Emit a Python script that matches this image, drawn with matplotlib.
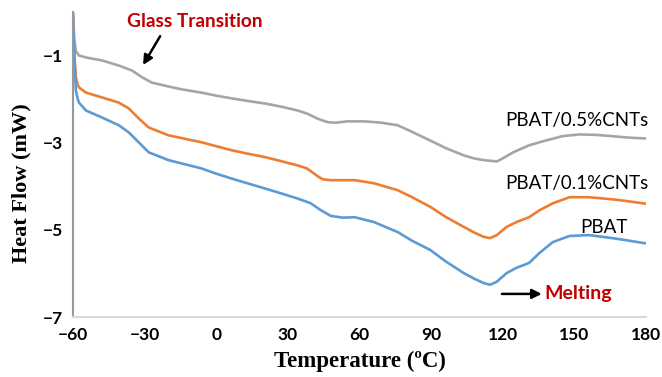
import matplotlib
matplotlib.use("Agg")
import matplotlib.pyplot as plt

# DSC curves (temperature in degC, heat flow in mW)
t_gray = [-60, -59.5, -58.8, -57.5, -54, -47.9, -40.8, -35.4, -31, -27, -20, -14, -6.2,
          0, 6.25, 13, 20.4, 27, 34, 38, 42.5, 46.7, 50, 55, 62, 69, 76, 82, 89.6, 96,
          103.6, 108, 112, 117.5, 120, 124.4, 131, 138, 145, 152, 159, 166, 172, 178.7, 180]
hf_gray = [-0.05, -0.6, -0.9, -1.0, -1.05, -1.11, -1.23, -1.34, -1.5, -1.62, -1.71, -1.78, -1.85,
           -1.92, -1.98, -2.04, -2.1, -2.17, -2.26, -2.33, -2.45, -2.53, -2.54, -2.51, -2.51, -2.54, -2.6, -2.75, -2.95, -3.12,
           -3.29, -3.36, -3.4, -3.43, -3.36, -3.22, -3.06, -2.95, -2.85, -2.81, -2.82, -2.85, -2.88, -2.9, -2.9]

t_orange = [-60, -59.5, -58.8, -58, -57.5, -54.6, -47.9, -40.8, -36.7, -32.5, -28.3, -20, -6.2,
            0, 6.25, 13, 20.4, 27, 34, 38, 42.5, 44.6, 48, 53, 58, 66, 76, 82, 89.6, 96,
            103.6, 108, 112, 114.7, 117.5, 121.7, 125.8, 131, 135.4, 141, 148, 156, 166, 172, 178.7, 180]
hf_orange = [-0.05, -0.9, -1.5, -1.68, -1.73, -1.85, -1.96, -2.08, -2.21, -2.44, -2.65, -2.83, -2.99,
             -3.08, -3.17, -3.25, -3.33, -3.42, -3.52, -3.59, -3.77, -3.84, -3.86, -3.86, -3.86, -3.93, -4.09, -4.25, -4.47, -4.7,
             -4.93, -5.06, -5.16, -5.19, -5.12, -4.93, -4.82, -4.71, -4.55, -4.39, -4.25, -4.25, -4.3, -4.34, -4.39, -4.4]

t_blue = [-60, -59.5, -58.8, -58, -57.5, -54.6, -47.9, -40.8, -36.7, -32.5, -28.3, -20, -6.2,
          -0.6, 6.25, 13, 20.4, 27, 34, 39.6, 43.8, 48, 53, 58, 66, 76, 82, 89.6, 96,
          103.6, 108, 112, 114.7, 117.5, 121.7, 125.8, 131, 135.4, 141, 148, 156, 166, 172, 178.7, 180]
hf_blue = [-0.05, -1.0, -1.8, -2.0, -2.08, -2.26, -2.42, -2.6, -2.76, -2.99, -3.22, -3.4, -3.59,
           -3.7, -3.82, -3.93, -4.05, -4.16, -4.28, -4.39, -4.55, -4.68, -4.72, -4.71, -4.82, -5.05, -5.25, -5.46, -5.72,
           -5.99, -6.12, -6.22, -6.26, -6.19, -5.99, -5.87, -5.76, -5.53, -5.28, -5.14, -5.12, -5.19, -5.24, -5.3, -5.31]

xticks = [-60, -30, 0, 30, 60, 90, 120, 150, 180]
yticks = [-7, -5, -3, -1]

fig = plt.figure(figsize=(6.62, 3.77), dpi=100)
ax = fig.add_axes([73 / 662, 60 / 377, 573 / 662, 305 / 377])

ax.plot(t_gray, hf_gray, color="#A5A5A5", lw=1.9, solid_joinstyle="round")
ax.plot(t_orange, hf_orange, color="#ED7D31", lw=1.9, solid_joinstyle="round")
ax.plot(t_blue, hf_blue, color="#5B9BD5", lw=1.9, solid_joinstyle="round")

ax.set_xlim(-60, 180)
ax.set_ylim(-7, 0)
ax.set_xticks(xticks)
ax.set_yticks(yticks)
ax.tick_params(length=0, labelsize=12.5, pad=7)
for lab in ax.get_xticklabels() + ax.get_yticklabels():
    lab.set_fontfamily("Lato")
    lab.set_fontweight("bold")

for side in ["top", "right"]:
    ax.spines[side].set_visible(False)
ax.spines["left"].set_color("#999999")
ax.spines["left"].set_linewidth(1.5)
ax.spines["bottom"].set_color("#D9D9D9")
ax.spines["bottom"].set_linewidth(1.5)

ax.set_xlabel("Temperature (ºC)", family="Liberation Serif", fontweight="bold", fontsize=16.5, labelpad=6)
fig.text(21 / 662, 1 - 183 / 377, "Heat Flow (mW)", family="Liberation Serif", fontweight="bold",
         fontsize=16, rotation=90, ha="center", va="center")

red = "#C00000"
ax.text(-8.9, -0.22, "Glass Transition", color=red, family="Lato", fontweight="bold",
        fontsize=13.8, ha="center", va="center")
ax.annotate("", xy=(-31.25, -1.27), xytext=(-22.9, -0.5),
            arrowprops=dict(arrowstyle="-|>", color="black", lw=1.8, mutation_scale=14))

ax.text(121, -2.49, "PBAT/0.5%CNTs", family="Lato", fontsize=13.5, ha="left", va="center")
ax.text(121, -3.93, "PBAT/0.1%CNTs", family="Lato", fontsize=13.5, ha="left", va="center")
ax.text(152.5, -4.94, "PBAT", family="Lato", fontsize=13.5, ha="left", va="center")

ax.text(137.5, -6.45, "Melting", color=red, family="Lato", fontweight="bold",
        fontsize=14, ha="left", va="center")
ax.annotate("", xy=(137.5, -6.47), xytext=(118.5, -6.47),
            arrowprops=dict(arrowstyle="-|>", color="black", lw=1.8, mutation_scale=14))

fig.savefig("out.png", dpi=100)
